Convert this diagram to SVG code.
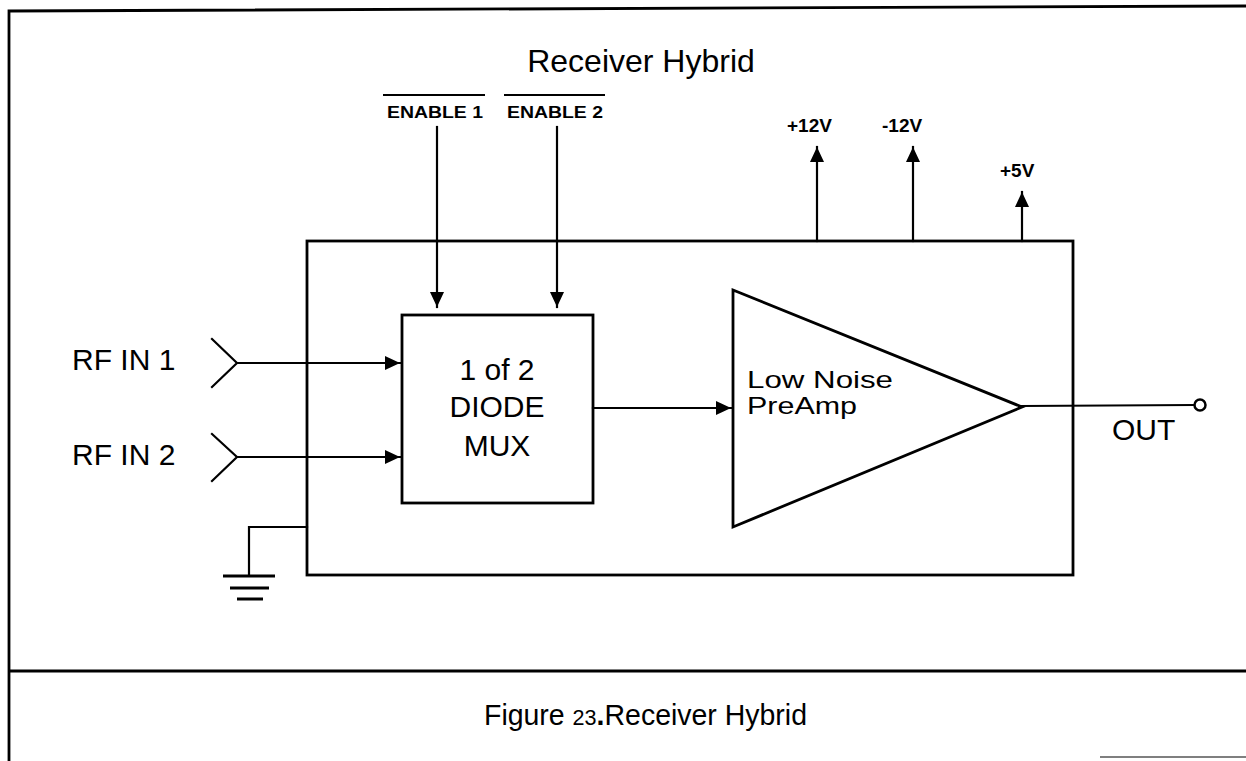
<svg xmlns="http://www.w3.org/2000/svg" width="1246" height="761" viewBox="0 0 1246 761">
<style>
  .ln { fill: none; stroke: #000; stroke-width: 2.2; stroke-linecap: square; }
  .bx { fill: none; stroke: #000; stroke-width: 2.8; }
  .t { font-family: "Liberation Sans", Arial, sans-serif; fill: #000; }
  .tb { font-family: "Liberation Sans", Arial, sans-serif; fill: #000; font-weight: bold; }
</style>
<defs>
  <marker id="ah" markerUnits="userSpaceOnUse" markerWidth="16" markerHeight="14" refX="15" refY="7" orient="auto">
    <path d="M0,0 L15,7 L0,14 Z" fill="#000"/>
  </marker>
</defs>
<rect x="0" y="0" width="1246" height="761" fill="#fff"/>

<g id="frame">
  <polyline class="bx" points="9,761 9,11 1246,6"/>
  <line class="bx" x1="9" y1="671" x2="1246" y2="671"/>
  <line x1="1100" y1="757" x2="1246" y2="757" stroke="#555" stroke-width="1.5"/>
</g>

<g id="title">
  <text class="t" x="641" y="72" font-size="32" text-anchor="middle">Receiver Hybrid</text>
</g>

<g id="hybrid-box">
  <rect class="bx" x="307" y="241" width="766" height="334"/>
</g>

<g id="enable1">
  <line x1="383" y1="95" x2="485" y2="95" stroke="#000" stroke-width="2"/>
  <text class="tb" x="387" y="118" font-size="16" textLength="96" lengthAdjust="spacingAndGlyphs">ENABLE 1</text>
</g>
<g id="enable2">
  <line x1="504" y1="95" x2="605" y2="95" stroke="#000" stroke-width="2"/>
  <text class="tb" x="507" y="118" font-size="16" textLength="96" lengthAdjust="spacingAndGlyphs">ENABLE 2</text>
</g>

<g id="rf-in-1">
  <text class="t" x="72" y="370" font-size="30">RF IN 1</text>
  <polyline class="ln" points="212,339 237,363 212,387"/>
</g>
<g id="rf-in-2">
  <text class="t" x="72" y="465" font-size="30">RF IN 2</text>
  <polyline class="ln" points="212,434 237,457 212,481"/>
</g>

<g id="mux">
  <rect class="bx" x="402" y="315" width="191" height="188"/>
  <text class="t" x="497" y="380" font-size="30" text-anchor="middle">1 of 2</text>
  <text class="t" x="497" y="417" font-size="30" text-anchor="middle">DIODE</text>
  <text class="t" x="497" y="456" font-size="30" text-anchor="middle">MUX</text>
</g>

<g id="preamp">
  <polygon class="bx" points="733,290 1022,407 733,527"/>
  <text class="t" x="747" y="388" font-size="24" textLength="146" lengthAdjust="spacingAndGlyphs">Low Noise</text>
  <text class="t" x="747" y="414" font-size="24" textLength="110" lengthAdjust="spacingAndGlyphs">PreAmp</text>
</g>

<g id="out">
  <circle cx="1200" cy="405" r="5.5" fill="#fff" stroke="#000" stroke-width="2.5"/>
  <text class="t" x="1112" y="440" font-size="30">OUT</text>
</g>

<g id="supply-p12">
  <text class="tb" x="787" y="132" font-size="19">+12V</text>
</g>
<g id="supply-m12">
  <text class="tb" x="882" y="132" font-size="19">-12V</text>
</g>
<g id="supply-p5">
  <text class="tb" x="1000" y="177" font-size="19">+5V</text>
</g>

<g id="ground">
  <line x1="223" y1="576" x2="275" y2="576" stroke="#000" stroke-width="3"/>
  <line x1="230" y1="588" x2="269" y2="588" stroke="#000" stroke-width="3"/>
  <line x1="237" y1="599" x2="263" y2="599" stroke="#000" stroke-width="3"/>
</g>

<g id="connectors">
  <line class="ln" x1="437" y1="127" x2="437" y2="307" marker-end="url(#ah)"/>
  <line class="ln" x1="557" y1="127" x2="557" y2="307" marker-end="url(#ah)"/>
  <line class="ln" x1="237" y1="363" x2="400" y2="363" marker-end="url(#ah)"/>
  <line class="ln" x1="237" y1="457" x2="400" y2="457" marker-end="url(#ah)"/>
  <line class="ln" x1="593" y1="408" x2="731" y2="408" marker-end="url(#ah)"/>
  <line class="ln" x1="1022" y1="406" x2="1194" y2="405"/>
  <line class="ln" x1="817" y1="241" x2="817" y2="147" marker-end="url(#ah)"/>
  <line class="ln" x1="913" y1="241" x2="913" y2="147" marker-end="url(#ah)"/>
  <line class="ln" x1="1022" y1="241" x2="1022" y2="192" marker-end="url(#ah)"/>
  <polyline class="ln" points="307,527 249,527 249,576" stroke-width="2.8"/>
</g>

<g id="caption">
  <text class="t" x="484" y="725" font-size="29" textLength="323" lengthAdjust="spacingAndGlyphs">Figure <tspan font-size="22">23</tspan><tspan font-weight="bold">.</tspan>Receiver Hybrid</text>
</g>
</svg>
